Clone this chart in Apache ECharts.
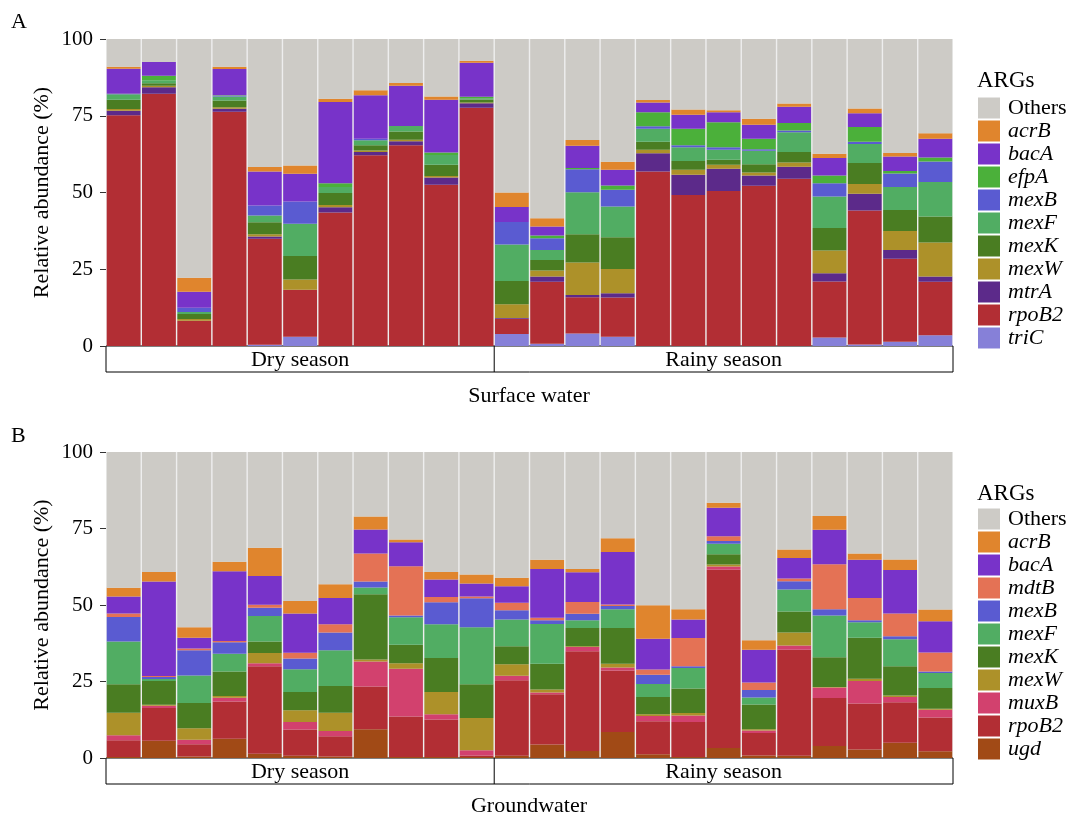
<!DOCTYPE html>
<html>
<head>
<meta charset="utf-8">
<script src="https://cdn.jsdelivr.net/npm/echarts@6/dist/echarts.min.js"></script>
<style>
  html, body { margin: 0; padding: 0; background: #ffffff; }
  #chart { width: 1073px; height: 817px; }
</style>
</head>
<body>
<div id="chart"></div>
<script>
// Samples: 11 dry-season sites followed by 13 rainy-season sites
const samples = ['D1','D2','D3','D4','D5','D6','D7','D8','D9','D10','D11',
                 'R1','R2','R3','R4','R5','R6','R7','R8','R9','R10','R11','R12','R13'];
const dryCount = 11;
const seasons = ['Dry season', 'Rainy season'];
const yTicks = [0, 25, 50, 75, 100];

// ---- Surface water (%), listed bottom-to-top of each stack ----
const swGenes = ['triC','rpoB2','mtrA','mexW','mexK','mexF','mexB','efpA','bacA','acrB','Others'];
const sw_triC   = [0,0,0,0,0.4,3.0,0,0,0,0,0, 3.9,0.7,4.1,3.0,0,0,0,0,0,2.8,0.5,1.4,3.5];
const sw_rpoB2  = [75.2,82.2,8.2,76.3,34.5,15.3,43.5,62.1,65.4,52.5,77.6, 5.0,20.2,11.8,12.8,56.8,49.2,50.5,52.2,54.5,18.2,43.6,27.0,17.4];
const sw_mtrA   = [1.4,2.1,0,1.0,0.8,0,1.7,1.1,1.3,2.4,1.5, 0.2,1.7,0.7,1.4,6.0,6.6,7.2,3.3,3.9,2.7,5.5,2.9,1.7];
const sw_mexW   = [0.6,0.5,0.6,0.5,0.7,3.4,0.7,0.5,0.5,0.5,0.2, 4.5,2.0,10.6,7.9,1.1,1.6,1.3,1.0,1.4,7.4,3.2,6.2,11.1];
const sw_mexK   = [3.0,0.8,1.6,2.2,3.9,7.6,3.9,1.7,2.7,3.6,1.0, 7.6,3.4,9.2,10.3,2.6,2.9,1.7,2.7,3.4,7.3,6.8,6.8,8.5];
const sw_mexF   = [1.8,1.0,0.7,1.3,2.2,10.5,2.0,1.6,1.8,3.2,0.4, 11.9,3.3,13.7,10.0,4.3,4.4,3.2,4.4,6.4,10.3,6.2,7.5,11.2];
const sw_mexB   = [0.1,0,1.4,0.2,3.3,7.3,0,0.5,0,0,0, 7.3,3.8,7.5,5.5,0.8,0.7,0.8,0.5,0.6,4.3,0.7,4.4,6.7];
const sw_efpA   = [0.1,1.4,0,0.2,0,0,1.2,0,0,0.8,0.5, 0,0.9,0.4,1.4,4.5,5.4,8.2,3.4,2.4,2.5,4.8,0.8,1.3];
const sw_bacA   = [8.1,4.5,5.2,8.5,11.0,9.0,26.5,14.2,13.1,17.2,11.1, 4.9,2.9,7.2,5.1,3.2,4.5,3.2,4.6,5.3,5.7,4.5,4.7,6.1];
const sw_acrB   = [0.7,0,4.5,0.8,1.5,2.7,1.0,1.6,0.9,1.1,0.6, 4.7,2.7,1.9,2.6,0.8,1.7,0.7,1.9,1.1,1.4,1.6,1.2,1.8];
const sw_Others = [9.0,7.5,77.8,9.0,41.7,41.2,19.5,16.7,14.3,18.7,7.2, 50.2,58.4,32.9,40.0,19.9,23.0,23.2,26.0,21.0,37.4,22.6,37.1,30.7];

// ---- Groundwater (%), listed bottom-to-top of each stack ----
const gwGenes = ['ugd','rpoB2','muxB','mexW','mexK','mexF','mexB','mdtB','bacA','acrB','Others'];
const gw_ugd    = [0.3,5.6,0.5,6.3,1.4,0.7,0.5,9.4,0.3,0.3,0.3, 0.7,4.4,2.3,8.5,1.2,0.3,3.3,0.8,0.7,3.9,2.8,5.0,2.2];
const gw_rpoB2  = [5.5,10.7,4.0,12.2,28.6,8.6,6.6,14.0,13.3,12.3,0.5, 24.7,16.4,32.6,20.1,10.8,11.5,58.2,7.4,34.7,15.7,15.0,13.2,11.0];
const gw_muxB   = [1.6,0.8,1.5,1.2,1.0,2.5,1.7,8.1,15.6,1.7,1.7, 1.5,0.6,1.4,1.0,1.7,2.1,1.1,0.8,1.4,3.4,7.4,1.7,2.6];
const gw_mexW   = [7.4,0.3,3.7,0.6,3.3,3.8,6.0,0.7,1.8,7.3,10.6, 3.7,1.0,0.2,1.2,0.6,0.8,0.6,0.4,4.2,0.2,0.7,0.5,0.3];
const gw_mexK   = [9.3,7.8,8.3,8.0,3.8,6.0,8.7,21.3,6.0,11.1,11.0, 5.9,8.4,6.0,11.7,5.6,8.0,3.4,8.1,6.9,9.7,13.4,9.6,6.8];
const gw_mexF   = [14.0,0.6,9.0,5.8,8.3,7.4,11.7,2.2,9.0,11.0,18.6, 8.8,13.0,2.5,6.1,4.3,6.7,3.4,2.3,7.2,13.7,5.1,8.8,4.9];
const gw_mexB   = [8.0,0.7,8.2,3.7,2.7,3.5,5.8,2.0,0.6,7.2,9.5, 3.0,1.2,2.1,1.1,3.0,0.6,0.9,2.4,2.7,2.0,0.6,1.0,0.5];
const gw_mdtB   = [1.1,0.3,0.6,0.4,1.0,1.9,2.7,9.1,16.1,1.7,0.6, 2.4,0.8,3.9,0.5,1.7,9.2,1.6,2.5,0.9,14.7,7.3,7.4,6.2];
const gw_bacA   = [5.6,30.9,3.5,22.8,9.4,12.8,8.6,7.9,7.8,5.7,4.2, 5.4,16.0,9.7,17.1,10.1,6.1,9.3,10.7,6.7,11.3,12.5,14.2,10.2];
const gw_acrB   = [2.8,3.1,3.4,3.1,9.2,4.1,4.5,4.2,0.9,2.5,3.0, 2.8,3.0,1.1,4.5,10.9,3.3,1.6,3.1,2.7,4.5,2.0,3.5,3.8];
const gw_Others = [44.4,39.2,57.3,35.9,31.3,48.7,43.2,21.1,28.6,39.2,40.0, 41.1,35.2,38.2,28.2,50.1,51.4,16.6,61.5,31.9,20.9,33.2,35.1,51.5];

const swData = { triC: sw_triC, rpoB2: sw_rpoB2, mtrA: sw_mtrA, mexW: sw_mexW, mexK: sw_mexK,
  mexF: sw_mexF, mexB: sw_mexB, efpA: sw_efpA, bacA: sw_bacA, acrB: sw_acrB, Others: sw_Others };
const gwData = { ugd: gw_ugd, rpoB2: gw_rpoB2, muxB: gw_muxB, mexW: gw_mexW, mexK: gw_mexK,
  mexF: gw_mexF, mexB: gw_mexB, mdtB: gw_mdtB, bacA: gw_bacA, acrB: gw_acrB, Others: gw_Others };

const geneColors = {
  Others: '#cdcbc6', acrB: '#e0852d', bacA: '#7833c9', efpA: '#4bb03a', mexB: '#5a5bd1',
  mexF: '#51ad63', mexK: '#4a7d22', mexW: '#ad9129', mtrA: '#5c2a8a', rpoB2: '#b22e34',
  triC: '#8680d8', mdtB: '#e47255', muxB: '#d2416e', ugd: '#a14a16'
};

const SERIF = 'Liberation Serif, Times New Roman, serif';
const chart = echarts.init(document.getElementById('chart'), null, { renderer: 'canvas' });

const grids = [
  { left: 106, right: 120, top: 39, height: 307 },
  { left: 106, right: 120, top: 452, height: 306 }
];

function yAxisFor(gridIndex) {
  return {
    type: 'value', gridIndex, min: 0, max: 100, interval: 25,
    name: 'Relative abundance (%)', nameLocation: 'middle', nameGap: 53,
    nameMoveOverlap: false,
    nameTextStyle: { fontFamily: SERIF, fontSize: 22, color: '#000' },
    axisLine: { show: false },
    axisTick: { show: true, length: 6, lineStyle: { color: '#333', width: 1 } },
    splitLine: { show: false },
    axisLabel: { fontFamily: SERIF, fontSize: 21, color: '#000', margin: 13 }
  };
}
function xAxisFor(gridIndex) {
  return {
    type: 'category', gridIndex, data: samples,
    axisLine: { show: false }, axisTick: { show: false }, axisLabel: { show: false }
  };
}

function stackSeries(genes, data, panel) {
  return genes.map(g => ({
    type: 'bar', name: g, stack: 'panel' + panel,
    xAxisIndex: panel, yAxisIndex: panel,
    data: data[g], barCategoryGap: '4%',
    itemStyle: { color: geneColors[g] },
    emphasis: { disabled: true }
  }));
}

const legendRich = { i: { fontFamily: SERIF, fontSize: 22, fontStyle: 'italic', color: '#000', lineHeight: 21 } };
function legendFor(genes, top) {
  return {
    orient: 'vertical', left: 978, top, padding: 0,
    data: genes.slice().reverse(),
    icon: 'rect', itemWidth: 22, itemHeight: 21, itemGap: 1,
    selectedMode: false,
    itemStyle: { borderWidth: 0 },
    textStyle: { fontFamily: SERIF, fontSize: 22, color: '#000', lineHeight: 21, padding: [0, 0, 0, 3], rich: legendRich },
    formatter: name => name === 'Others' ? name : '{i|' + name + '}'
  };
}

const titleStyle = { fontFamily: SERIF, fontSize: 22, fontWeight: 'normal', color: '#000' };
const argsStyle = Object.assign({}, titleStyle, { fontSize: 23 });

chart.setOption({
  animation: false,
  backgroundColor: '#ffffff',
  title: [
    { text: 'A', left: 11, top: 11, padding: 0, textStyle: titleStyle },
    { text: 'B', left: 11, top: 425, padding: 0, textStyle: titleStyle },
    { text: 'ARGs', left: 977, top: 69, padding: 0, textStyle: argsStyle },
    { text: 'ARGs', left: 977, top: 482, padding: 0, textStyle: argsStyle },
    { text: 'Surface water', left: 529, top: 385, padding: 0, textAlign: 'center', textStyle: titleStyle },
    { text: 'Groundwater', left: 529, top: 795, padding: 0, textAlign: 'center', textStyle: titleStyle }
  ],
  grid: grids.map(g => Object.assign({ show: true, backgroundColor: '#eeeeee', borderWidth: 0, outerBoundsMode: 'none', containLabel: false }, g)),
  xAxis: [xAxisFor(0), xAxisFor(1)],
  yAxis: [yAxisFor(0), yAxisFor(1)],
  legend: [legendFor(swGenes, 97), legendFor(gwGenes, 508)],
  series: stackSeries(swGenes, swData, 0).concat(stackSeries(gwGenes, gwData, 1))
});

// Season strip beneath each panel, placed from the category axis
function seasonStrip(panel) {
  const xa = { xAxisIndex: panel };
  const c0 = chart.convertToPixel(xa, samples[0]);
  const c1 = chart.convertToPixel(xa, samples[1]);
  const band = c1 - c0;
  const left = c0 - band / 2;
  const right = chart.convertToPixel(xa, samples[samples.length - 1]) + band / 2;
  const split = chart.convertToPixel(xa, samples[dryCount - 1]) + band / 2;
  const top = chart.convertToPixel({ yAxisIndex: panel }, 0);
  const h = 26;
  const textStyle = { fontFamily: SERIF, fontSize: 22, fill: '#000', textAlign: 'center', textVerticalAlign: 'middle' };
  return [
    { type: 'rect', shape: { x: left, y: top, width: right - left, height: h },
      style: { fill: '#ffffff', stroke: '#000', lineWidth: 1 }, silent: true },
    { type: 'line', shape: { x1: split, y1: top, x2: split, y2: top + h },
      style: { stroke: '#000', lineWidth: 1 }, silent: true },
    { type: 'text', x: (left + split) / 2, y: top + h / 2 + 1,
      style: Object.assign({ text: seasons[0] }, textStyle), silent: true },
    { type: 'text', x: (split + right) / 2, y: top + h / 2 + 1,
      style: Object.assign({ text: seasons[1] }, textStyle), silent: true }
  ];
}

chart.setOption({ graphic: { elements: seasonStrip(0).concat(seasonStrip(1)) } });
</script>
</body>
</html>
